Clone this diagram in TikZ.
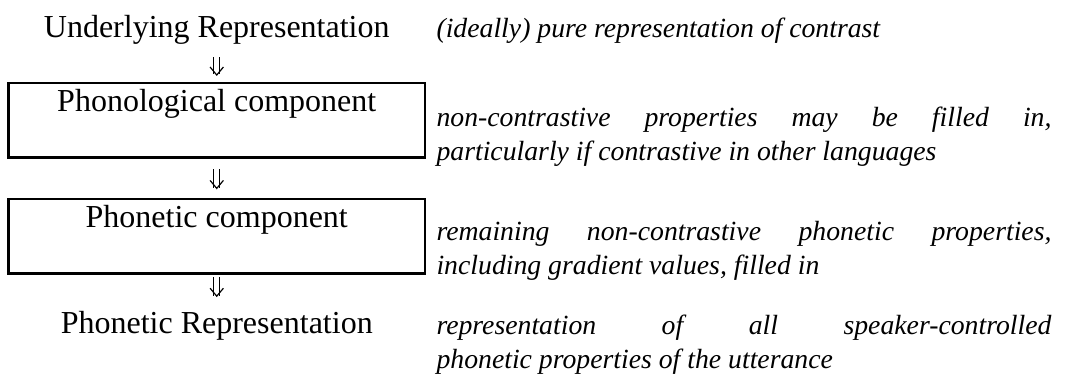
\documentclass[tikz,border=0pt]{standalone}
\usepackage{fontspec}
\setmainfont{Liberation Serif}[ItalicFont={Liberation Serif Italic}]
\usetikzlibrary{arrows.meta}

\begin{document}
\begin{tikzpicture}
		[
			x=0.375pt, y=-0.375pt,
			% Upright stage names, placed on their baseline.
			stage/.style={anchor=base, inner sep=0pt, font=\fontsize{12}{14}\selectfont},
			% And the boxed components.
			compbox/.style={stage, draw, line width=1pt, minimum width=156.2pt,
				text height=10.9pt, text depth=17pt},
			% Italic comments in the right column.
			gloss/.style={anchor=base west, inner sep=0pt, text width=230.6pt,
				align=justify, font=\fontsize{10.4}{12.4}\selectfont\itshape},
			% Double arrow from one stage to the next.
			dnarrow/.style={double, double distance=1.8pt, line width=0.45pt,
				-{Straight Barb[length=3pt,width=5pt]}}
		]
			\useasboundingbox (0,0) rectangle (1066,381);

			% Stages.
			\node[stage] (ur) at (216.75,38) {Underlying Representation};
			\node[compbox] (phon) at (216.75,112) {Phonological component};
			\node[compbox] (phonet) at (216.75,228) {Phonetic component};
			\node[stage] (pr) at (216.75,334) {Phonetic Representation};

			% Comments.
			\node[gloss] (urgloss) at (436,38) {(ideally) pure representation of contrast};
			\node[gloss] (phongloss) at (436,127)
				{non-contrastive properties may be filled in,\linebreak
				particularly if contrastive in other languages};
			\node[gloss] (phonetgloss) at (436,241)
				{remaining non-contrastive phonetic properties,\linebreak
				including gradient values, filled in};
			\node[gloss] (prgloss) at (436,335)
				{representation of all speaker-controlled\linebreak
				phonetic properties of the utterance};

			% Derivation arrows.
			\draw[dnarrow, shorten <=4.5pt, shorten >=2.1pt] (ur.south) -- (phon.north);
			\draw[dnarrow, shorten <=4pt, shorten >=3.1pt] (phon.south) -- (phonet.north);
			\draw[dnarrow, shorten <=0.8pt, shorten >=5.3pt] (phonet.south) -- (pr.north);
		\end{tikzpicture}
\end{document}
